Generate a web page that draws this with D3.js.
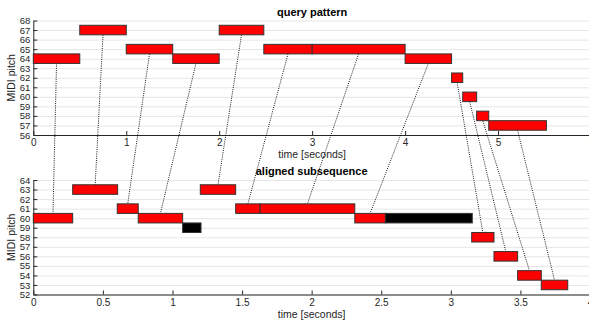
<!DOCTYPE html>
<html>
<head>
<meta charset="utf-8">
<script src="https://cdn.jsdelivr.net/npm/d3@7"></script>
<style>
  body { margin: 0; background: #fff; }
  svg { display: block; font-family: "Liberation Sans", Arial, sans-serif; }
</style>
</head>
<body>
<div id="root"></div>
<script>
// query pattern notes (seconds, MIDI pitch)
const queryStart = [0, 0.5, 1.0, 1.5, 2.0, 2.48, 3.0, 4.0, 4.5, 4.62, 4.77, 4.9];
const queryEnd   = [0.5, 1.0, 1.5, 2.0, 2.48, 3.0, 4.0, 4.5, 4.62, 4.77, 4.9, 5.52];
const queryPitch = [64, 67, 65, 64, 67, 65, 65, 64, 62, 60, 58, 57];

// aligned subsequence: matched notes (red)
const alignStart = [0, 0.283, 0.603, 0.754, 1.2, 1.454, 1.63, 2.31, 3.15, 3.31, 3.48, 3.65];
const alignEnd   = [0.283, 0.606, 0.754, 1.073, 1.454, 1.63, 2.31, 2.53, 3.31, 3.48, 3.65, 3.84];
const alignPitch = [60, 63, 61, 60, 63, 61, 61, 60, 58, 56, 54, 53];

// unmatched notes (black)
const extraStart = [1.073, 2.53];
const extraEnd   = [1.205, 3.154];
const extraPitch = [59, 60];

const queryXTicks = [0, 1, 2, 3, 4, 5, 6];
const alignXTicks = [0, 0.5, 1, 1.5, 2, 2.5, 3, 3.5, 4];

const W = 589, H = 322;
const axisColor = "#262626";

const svg = d3.select("#root").append("svg")
  .attr("width", W).attr("height", H);

const mk = (s, e, p) => s.map((d, i) => ({ start: d, end: e[i], pitch: p[i] }));
const queryNotes = mk(queryStart, queryEnd, queryPitch);
const alignNotes = mk(alignStart, alignEnd, alignPitch);
const extraNotes = mk(extraStart, extraEnd, extraPitch);

// scales
const xTop = d3.scaleLinear().domain([0, 6]).range([33.3, 591]);
const yTop = d3.scaleLinear().domain([56, 68]).range([135, 20.5]);
const xBot = d3.scaleLinear().domain([0, 4]).range([33.3, 590]);
const yBot = d3.scaleLinear().domain([52, 64]).range([294.5, 180]);

function panel(x, y, xTicks, xFmt, title, xlabelY, titleY) {
  const g = svg.append("g");
  const [x0, x1] = x.range();
  const [y0, y1] = y.range();

  // horizontal grid
  g.append("g")
    .attr("transform", `translate(${x0},0)`)
    .call(d3.axisLeft(y).ticks(12).tickSize(-(x1 - x0)).tickFormat(""))
    .call(a => a.select(".domain").remove())
    .call(a => a.selectAll("line").attr("stroke", "#e6e6e6").attr("stroke-width", 1));

  // y axis
  g.append("g")
    .attr("transform", `translate(${x0},0)`)
    .call(d3.axisLeft(y).ticks(12).tickSizeInner(-4).tickSizeOuter(0).tickPadding(3).tickFormat(d3.format("d")))
    .call(a => a.select(".domain").attr("stroke", axisColor))
    .call(a => a.selectAll("line").attr("stroke", axisColor))
    .call(a => a.selectAll("text").attr("fill", axisColor).style("font-size", "9.5px"));

  // x axis
  g.append("g")
    .attr("transform", `translate(0,${y0})`)
    .call(d3.axisBottom(x).tickValues(xTicks).tickSizeInner(-4).tickSizeOuter(0).tickPadding(4).tickFormat(xFmt))
    .call(a => a.select(".domain").attr("stroke", axisColor))
    .call(a => a.selectAll("line").attr("stroke", axisColor))
    .call(a => a.selectAll("text").attr("fill", axisColor).style("font-size", "10px"));

  const cx = (x0 + x1) / 2;
  g.append("text")
    .text(title)
    .attr("x", cx).attr("y", titleY)
    .attr("text-anchor", "middle")
    .style("font-size", "11px").style("font-weight", "bold")
    .attr("fill", "#000");
  g.append("text")
    .text("time [seconds]")
    .attr("transform", `translate(${cx},${xlabelY})`)
    .attr("text-anchor", "middle")
    .style("font-size", "10.5px")
    .attr("fill", axisColor);
  g.append("text")
    .text("MIDI pitch")
    .attr("transform", `translate(15,${(y0 + y1) / 2})rotate(-90)`)
    .attr("text-anchor", "middle")
    .style("font-size", "10.5px")
    .attr("fill", axisColor);
  return g;
}

panel(xTop, yTop, queryXTicks, d3.format("d"), "query pattern", 158, 16);
panel(xBot, yBot, alignXTicks, d => (d % 1 === 0 ? d3.format("d")(d) : d), "aligned subsequence", 318, 175);

// dotted alignment lines (midpoint of query note -> midpoint of aligned note)
svg.append("g")
  .selectAll("line")
  .data(queryNotes)
  .join("line")
    .attr("x1", d => xTop((d.start + d.end) / 2))
    .attr("y1", d => yTop(d.pitch - 0.5))
    .attr("x2", (d, i) => xBot((alignNotes[i].start + alignNotes[i].end) / 2))
    .attr("y2", (d, i) => yBot(alignNotes[i].pitch + 0.5))
    .attr("stroke", "#000")
    .attr("stroke-width", 0.9)
    .attr("stroke-dasharray", "1,1.2");

function drawNotes(data, x, y, fill) {
  svg.append("g")
    .selectAll("rect")
    .data(data)
    .join("rect")
      .attr("x", d => x(d.start))
      .attr("y", d => y(d.pitch + 0.5))
      .attr("width", d => x(d.end) - x(d.start))
      .attr("height", d => y(d.pitch - 0.5) - y(d.pitch + 0.5))
      .attr("fill", fill)
      .attr("stroke", "#333")
      .attr("stroke-width", 1);
}

drawNotes(queryNotes, xTop, yTop, "#ff0000");
drawNotes(alignNotes, xBot, yBot, "#ff0000");
drawNotes(extraNotes, xBot, yBot, "#000000");
</script>
</body>
</html>
